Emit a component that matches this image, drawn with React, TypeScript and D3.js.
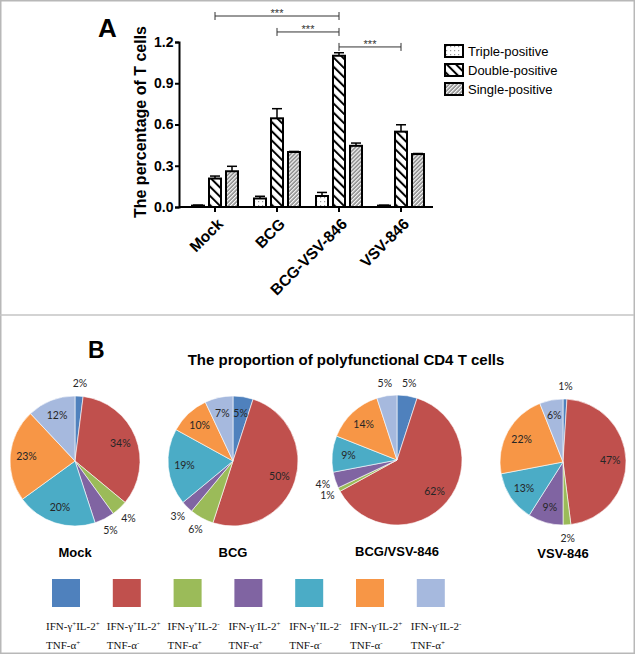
import { arc, axisBottom, axisLeft, pie, scaleBand, scaleLinear, scalePoint, select } from "d3";
import { useEffect, useRef } from "react";

// panel A data
const groups = ["Mock", "BCG", "BCG-VSV-846", "VSV-846"];
const seriesKeys = ["Triple-positive", "Double-positive", "Single-positive"];
const tripleVals = [0.01, 0.062, 0.08, 0.01];
const tripleErr = [0.004, 0.016, 0.026, 0.003];
const doubleVals = [0.207, 0.645, 1.1, 0.548];
const doubleErr = [0.018, 0.07, 0.022, 0.05];
const singleVals = [0.26, 0.4, 0.445, 0.385];
const singleErr = [0.036, 0.004, 0.02, 0.004];
const yTicks = [0, 0.3, 0.6, 0.9, 1.2];

// significance brackets: [from group, to group, level]
const sigFrom = [0, 1, 2];
const sigTo = [2, 2, 3];
const sigLevel = [1.389, 1.273, 1.164];

// panel B data
const pieNames = ["Mock", "BCG", "BCG/VSV-846", "VSV-846"];
const mockPct = [2, 34, 4, 5, 20, 23, 12];
const bcgPct = [5, 50, 6, 3, 19, 10, 7];
const bcgVsvPct = [5, 62, 1, 4, 9, 14, 5];
const vsvPct = [1, 47, 2, 9, 13, 22, 6];
const outsideLabels = [[0, 2, 3], [2, 3], [0, 2, 3, 6], [0, 2]];
const sliceColors = ["#4f81bd", "#c0504d", "#9bbb59", "#8064a2", "#4bacc6", "#f79646", "#a6b9de"];
const ifnSigns = ["+", "+", "+", "-", "+", "-", "-"];
const il2Signs = ["+", "+", "-", "+", "-", "+", "-"];
const tnfSigns = ["+", "-", "+", "+", "-", "-", "+"];

const W = 636;
const H = 655;
const BOLD = "Arial, 'Liberation Sans', sans-serif";
const SERIF = "'Liberation Serif', 'Times New Roman', serif";

const x0 = scaleBand<string>().domain(groups).range([184, 432]);
const x1 = scalePoint<string>().domain(seriesKeys).range([-17, 17]);
const y = scaleLinear().domain([0, 1.2]).range([207, 42]);
const barW = 12;
const fills = ["url(#pTriple)", "url(#pDouble)", "url(#pSingle)"];

const pieCx = [75, 233, 397, 563];
const pieCy = [461, 461, 460, 462];
const pieR = [65, 65, 65, 63];

const App = () => {
  const yRef = useRef<SVGGElement>(null);
  const xRef = useRef<SVGGElement>(null);

  useEffect(() => {
    const ya = select(yRef.current!);
    ya.call(
      axisLeft(y)
        .tickValues(yTicks)
        .tickFormat((d) => (d as number).toFixed(1))
        .tickSizeOuter(0)
        .tickSize(4)
        .tickPadding(1.5)
    );
    ya.select(".domain").attr("stroke-width", 2);
    ya.selectAll(".tick line").attr("stroke-width", 2);
    ya.selectAll(".tick text")
      .attr("font-family", BOLD)
      .attr("font-weight", "bold")
      .attr("font-size", 14)
      .attr("fill", "#000");

    const xa = select(xRef.current!);
    xa.call(axisBottom(x0).tickSize(5).tickSizeOuter(0).tickFormat(() => ""));
    xa.select(".domain").attr("d", "M179,0H433").attr("stroke-width", 2);
    xa.selectAll(".tick line").attr("stroke-width", 2);
  }, []);

  const vals = [tripleVals, doubleVals, singleVals];
  const errs = [tripleErr, doubleErr, singleErr];
  const pies = [mockPct, bcgPct, bcgVsvPct, vsvPct];
  const pieGen = pie<number>().sort(null).value((d) => d);

  return (
    <svg width={W} height={H} style={{ position: "absolute", left: 0, top: 0 }}>
      <defs>
        <pattern id="pTriple" width="4" height="4" patternUnits="userSpaceOnUse">
          <rect width="4" height="4" fill="#fff" />
          <rect x="1" y="1" width="1.2" height="1.2" fill="#999" />
        </pattern>
        <pattern id="pDouble" width="6.5" height="6.5" patternUnits="userSpaceOnUse" patternTransform="rotate(-45)">
          <rect width="6.5" height="6.5" fill="#fff" />
          <line x1="1" y1="0" x2="1" y2="6.5" stroke="#000" strokeWidth="2" />
        </pattern>
        <pattern id="pSingle" width="2.8" height="2.8" patternUnits="userSpaceOnUse" patternTransform="rotate(45)">
          <rect width="2.8" height="2.8" fill="#fff" />
          <line x1="1" y1="0" x2="1" y2="2.8" stroke="#444" strokeWidth="1" />
        </pattern>
      </defs>
      <rect width={W} height={H} fill="#fff" />
      <rect x={0.75} y={0.75} width={633.5} height={652.5} fill="none" stroke="#b8b8b8" strokeWidth={1.5} />
      <line x1={0} x2={634} y1={315} y2={315} stroke="#c4c4c4" strokeWidth={1.5} />

      {/* Panel A */}
      <text x={98} y={37} fontFamily={BOLD} fontWeight="bold" fontSize={26}>A</text>
      <text
        transform={`translate(146,122) rotate(-90)`}
        textAnchor="middle"
        fontFamily={BOLD}
        fontWeight="bold"
        fontSize={16}
      >
        The percentage of T cells
      </text>

      {groups.map((g, gi) => (
        <g key={g} transform={`translate(${(x0(g) ?? 0) + x0.bandwidth() / 2},0)`}>
          {seriesKeys.map((k, si) => {
            const cx = x1(k) ?? 0;
            const v = vals[si][gi];
            const e = errs[si][gi];
            return (
              <g key={k}>
                <line x1={cx} x2={cx} y1={y(v)} y2={y(v + e)} stroke="#000" strokeWidth={1.5} />
                <line x1={cx - 5} x2={cx + 5} y1={y(v + e)} y2={y(v + e)} stroke="#000" strokeWidth={1.5} />
                <rect
                  x={cx - barW / 2}
                  y={y(v)}
                  width={barW}
                  height={y(0) - y(v)}
                  fill={fills[si]}
                  stroke="#000"
                  strokeWidth={2}
                />
              </g>
            );
          })}
          <text
            transform={`translate(9,225) rotate(-45)`}
            textAnchor="end"
            fontFamily={BOLD}
            fontWeight="bold"
            fontSize={15.5}
          >
            {g}
          </text>
        </g>
      ))}

      <g ref={yRef} transform="translate(179,0)" />
      <g ref={xRef} transform="translate(0,207)" />

      {sigFrom.map((f, i) => {
        const xa = (x0(groups[f]) ?? 0) + x0.bandwidth() / 2;
        const xb = (x0(groups[sigTo[i]]) ?? 0) + x0.bandwidth() / 2;
        const yy = y(sigLevel[i]);
        return (
          <g key={i} stroke="#333" strokeWidth={1}>
            <line x1={xa} x2={xb} y1={yy} y2={yy} />
            <line x1={xa} x2={xa} y1={yy - 4} y2={yy + 4} />
            <line x1={xb} x2={xb} y1={yy - 4} y2={yy + 4} />
            <text
              x={(xa + xb) / 2}
              y={yy + 1}
              stroke="none"
              fill="#333"
              textAnchor="middle"
              fontFamily={BOLD}
              fontSize={11}
            >
              ***
            </text>
          </g>
        );
      })}

      {seriesKeys.map((k, i) => (
        <g key={k} transform={`translate(445,${45 + i * 19})`}>
          <rect width={18} height={12} fill={fills[i]} stroke="#000" strokeWidth={2} />
          <text x={23} y={11} fontFamily={BOLD} fontSize={13}>{k}</text>
        </g>
      ))}

      {/* Panel B */}
      <text x={88} y={358} fontFamily={BOLD} fontWeight="bold" fontSize={23}>B</text>
      <text x={346} y={365} textAnchor="middle" fontFamily={BOLD} fontWeight="bold" fontSize={15}>
        The proportion of polyfunctional CD4 T cells
      </text>

      {pies.map((data, pi) => {
        const r = pieR[pi];
        const arcs = pieGen(data);
        const path = arc<any>().innerRadius(0).outerRadius(r);
        return (
          <g key={pi} transform={`translate(${pieCx[pi]},${pieCy[pi]})`}>
            {arcs.map((a, i) => (
              <path key={i} d={path(a) ?? ""} fill={sliceColors[i]} stroke="#fff" strokeWidth={0.6} />
            ))}
            {arcs.map((a, i) => {
              const mid = (a.startAngle + a.endAngle) / 2;
              const out = outsideLabels[pi].includes(i);
              const rr = out ? r + 13 : r * 0.75;
              return (
                <text
                  key={"l" + i}
                  x={Math.sin(mid) * rr}
                  y={-Math.cos(mid) * rr}
                  dy="0.35em"
                  textAnchor="middle"
                  fontFamily="Lato, 'Open Sans', sans-serif"
                  fontSize={10.5}
                  fill="#262626"
                >
                  {data[i]}%
                </text>
              );
            })}
            <text y={96} textAnchor="middle" fontFamily={BOLD} fontWeight="bold" fontSize={13}>
              {pieNames[pi]}
            </text>
          </g>
        );
      })}

      {sliceColors.map((c, i) => {
        const lx = 52 + i * 60.8;
        return (
          <g key={c}>
            <rect x={lx} y={579} width={28} height={28} fill={c} />
            <text x={lx - 6} y={630} fontFamily={SERIF} fontSize={11} fill="#111">
              <tspan>IFN-γ</tspan>
              <tspan dy={-4} fontSize={7}>{ifnSigns[i]}</tspan>
              <tspan dy={4}>IL-2</tspan>
              <tspan dy={-4} fontSize={7}>{il2Signs[i]}</tspan>
            </text>
            <text x={lx - 6} y={649} fontFamily={SERIF} fontSize={11} fill="#111">
              <tspan>TNF-α</tspan>
              <tspan dy={-4} fontSize={7}>{tnfSigns[i]}</tspan>
            </text>
          </g>
        );
      })}
    </svg>
  );
};

export default App;
